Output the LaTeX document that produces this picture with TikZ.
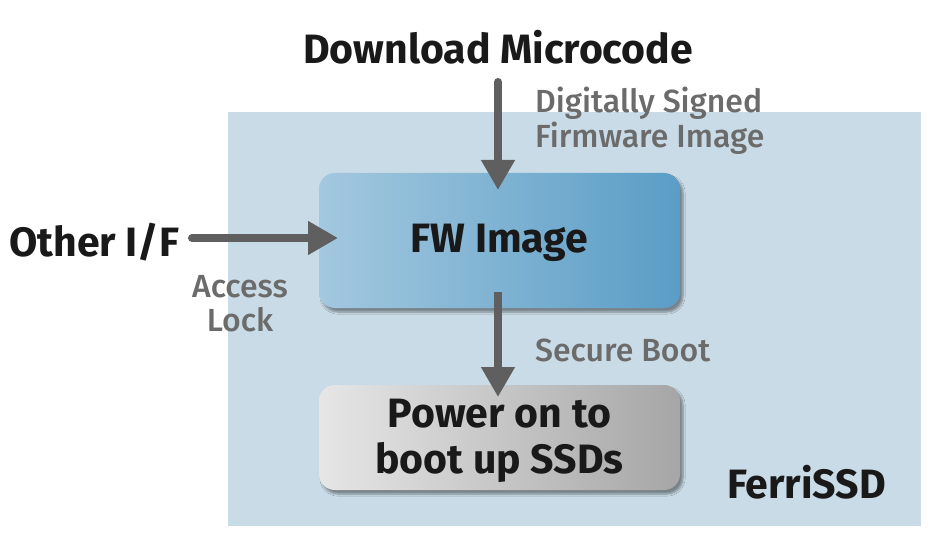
\documentclass[tikz,border=0pt]{standalone}
\usepackage{fontspec}
\setmainfont{Fira Sans}
\newfontfamily\labelfont{Fira Sans Medium}
\usetikzlibrary{arrows.meta,shadows.blur}
\definecolor{bgblue}{HTML}{C9DBE6}
\definecolor{fwl}{HTML}{A3C8DF}
\definecolor{fwr}{HTML}{5A9DC6}
\definecolor{pwl}{HTML}{E6E6E6}
\definecolor{pwr}{HTML}{A6A6A6}
\definecolor{arr}{HTML}{5F5F5F}
\definecolor{lbl}{HTML}{6B6B6B}
\tikzset{
  conn/.style={draw=arr,line width=8pt,-{Triangle[length=30pt,width=32pt]}},
  lbltext/.style={text=lbl,font=\labelfont\fontsize{32}{35}\selectfont,align=left},
  bigtext/.style={text=black!90,font=\fontsize{41}{46}\selectfont\bfseries},
  boxbase/.style={rounded corners=16pt,minimum width=361pt,inner sep=0pt,blur shadow={shadow xshift=3pt,shadow yshift=-4pt,shadow blur steps=6,shadow opacity=40}},
}
\begin{document}
\begin{tikzpicture}[x=1pt,y=-1pt]
\useasboundingbox (0,0) rectangle (945,548);
\fill[white] (0,0) rectangle (945,548);
\node[fill=bgblue,minimum width=693pt,minimum height=414pt,inner sep=0pt,anchor=north west] (ssd) at (228,112) {};
\node[boxbase,minimum height=135pt,left color=fwl,right color=fwr] (fw) at (499.5,240.5) {};
\node[bigtext] (fwtext) at (499.5,243) {FW Image};
\node[boxbase,minimum height=105pt,left color=pwl,right color=pwr] (pw) at (499.5,437.5) {};
\node[bigtext,align=center] (pwtext) at (499.5,441) {Power on to\\boot up SSDs};
\node[bigtext] (dl) at (498,47) {Download Microcode};
\node[bigtext,anchor=west,inner sep=0pt] (oif) at (9,242) {Other I/F};
\node[bigtext,anchor=west,inner sep=0pt] (fs) at (727,482) {FerriSSD};
\node[lbltext,anchor=west,inner sep=0pt] (dsf) at (535,121) {Digitally Signed\\Firmware Image};
\node[lbltext,align=center,inner sep=0pt,font=\labelfont\fontsize{32}{34}\selectfont] (acc) at (240,304) {Access\\Lock};
\node[lbltext,anchor=west,inner sep=0pt] (sb) at (535,350) {Secure Boot};
\coordinate (dlstart) at (498,82);
\coordinate (dlend) at (498,190);
\coordinate (oifstart) at (192,238);
\coordinate (oifend) at (338,238);
\coordinate (sbstart) at (498,292);
\coordinate (sbend) at (498,397);
\draw[conn,line cap=round] (dlstart) -- (dlend);
\draw[conn,line cap=round] (oifstart) -- (oifend);
\draw[conn] (sbstart) -- (sbend);
\end{tikzpicture}
\end{document}
